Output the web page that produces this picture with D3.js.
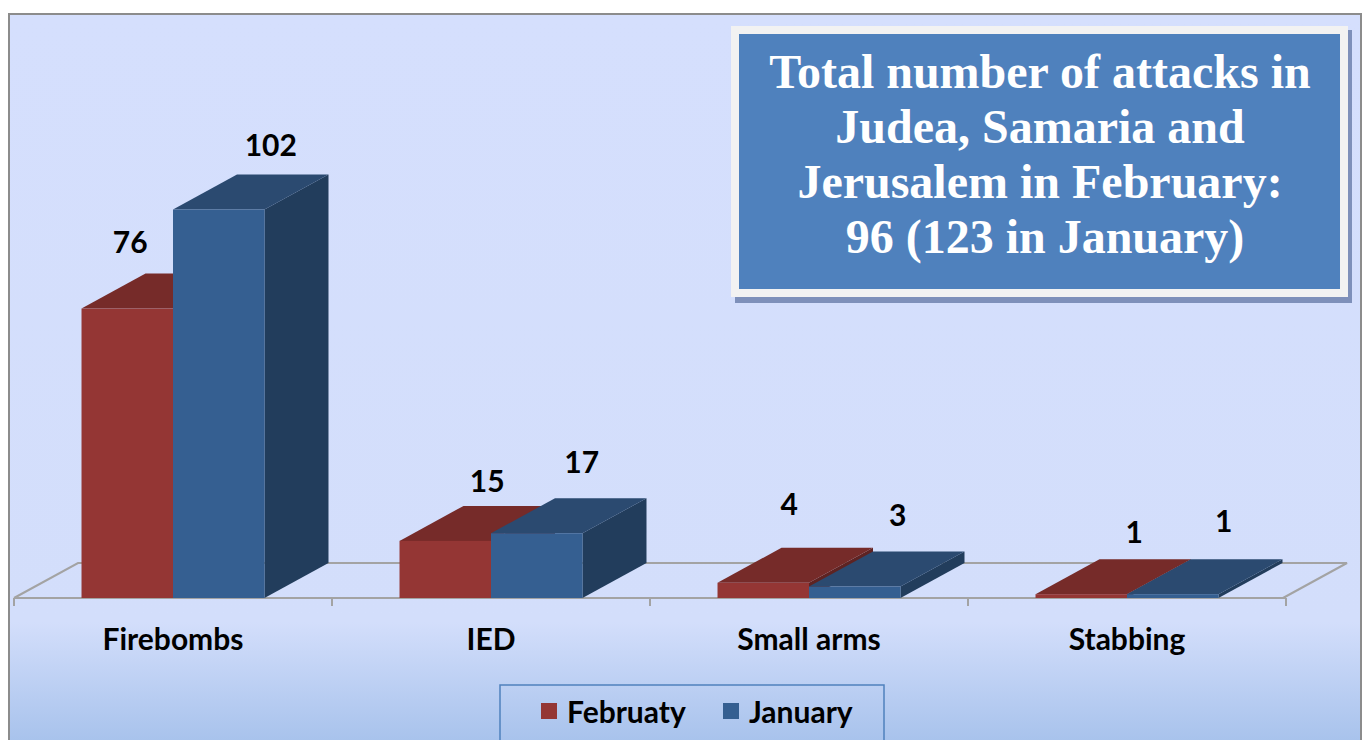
<!DOCTYPE html>
<html>
<head>
<meta charset="utf-8">
<script src="https://cdn.jsdelivr.net/npm/d3@7"></script>
<style>
  html, body { margin: 0; padding: 0; background: #fff; }
  svg { display: block; }
  .lbl { font-family: Lato, 'Open Sans', sans-serif; font-weight: 700; fill: #000; }
  .title { font-family: 'Liberation Serif', 'Times New Roman', serif; font-weight: 700; fill: #fff; }
</style>
</head>
<body>
<script>
const categories = ['Firebombs', 'IED', 'Small arms', 'Stabbing']
const february = [76, 15, 4, 1]
const january = [102, 17, 3, 1]
const seriesNames = ['Februaty', 'January']
const titleLines = [
  'Total number of attacks in',
  'Judea, Samaria and',
  'Jerusalem in February:',
  '96 (123 in January)'
]

const W = 1367
const H = 740
const depthX = 64
const depthY = -35 // 3D depth offset

// label nudges (from bar front centre / back top edge), Excel places them a bit unevenly
const labelNudge = [
  [[3, -21], [52, -19]],
  [[42, -14], [45, -25]],
  [[26, -33], [43, -26]],
  [[53, -16], [51, -27]]
]

const colors = [
  { front: '#943634', top: '#762B29', side: '#5E2322' },
  { front: '#355F91', top: '#2B4A70', side: '#223D5C' }
]

const svg = d3.select('body').append('svg').attr('width', W).attr('height', H)

const defs = svg.append('defs')
const grad = defs.append('linearGradient')
  .attr('id', 'bg').attr('x1', 0).attr('y1', 0).attr('x2', 0).attr('y2', 1)
grad.append('stop').attr('offset', '0').attr('stop-color', '#D5DFFD')
grad.append('stop').attr('offset', '0.8').attr('stop-color', '#D3DEFB')
grad.append('stop').attr('offset', '1').attr('stop-color', '#9CBBE8')

// chart background and border
svg.append('rect')
  .attr('x', 9).attr('y', 14).attr('width', 1352).attr('height', 760)
  .attr('fill', 'url(#bg)').attr('stroke', '#8C8C8C').attr('stroke-width', 2)

const x0 = d3.scaleBand().domain(categories).range([14, 1286])
const x1 = d3.scaleBand().domain(seriesNames).range([0, x0.bandwidth()]).paddingOuter(0.738)
const y = d3.scaleLinear().domain([0, 120]).range([598, 141])

const base = y(0)

// floor
const floor = svg.append('g').attr('fill', 'none').attr('stroke', '#A3A3A3').attr('stroke-width', 2)
const fx0 = x0.range()[0]
const fx1 = x0.range()[1] - 3
floor.append('path').attr('d', `M${fx0},${base}L${fx0 + depthX},${base + depthY}L${fx1 + depthX},${base + depthY}L${fx1},${base}`)
floor.append('line').attr('x1', fx0).attr('x2', x0.range()[1]).attr('y1', base).attr('y2', base)
floor.selectAll('.tick')
  .data(categories.map(c => x0(c)).concat([x0.range()[1]]))
  .join('line')
  .attr('x1', d => d).attr('x2', d => d)
  .attr('y1', base).attr('y2', base + 8)

// bars
const bars = []
categories.forEach((c, i) => {
  ;[february[i], january[i]].forEach((v, s) => {
    bars.push({ cat: c, i, s, v, x: x0(c) + x1(seriesNames[s]), w: x1.bandwidth(), yt: y(v) })
  })
})

const g = svg.append('g')
const bar = g.selectAll('g.bar').data(bars).join('g').attr('class', 'bar')
bar.append('polygon')
  .attr('points', d => [[d.x + d.w, d.yt], [d.x + d.w + depthX, d.yt + depthY], [d.x + d.w + depthX, base + depthY], [d.x + d.w, base]].join(' '))
  .attr('fill', d => colors[d.s].side)
bar.append('polygon')
  .attr('points', d => [[d.x, d.yt], [d.x + d.w, d.yt], [d.x + d.w + depthX, d.yt + depthY], [d.x + depthX, d.yt + depthY]].join(' '))
  .attr('fill', d => colors[d.s].top)
bar.append('rect')
  .attr('x', d => d.x).attr('y', d => d.yt)
  .attr('width', d => d.w).attr('height', d => base - d.yt)
  .attr('fill', d => colors[d.s].front)

// value labels
svg.append('g').selectAll('text').data(bars).join('text')
  .attr('class', 'lbl')
  .attr('font-size', 30)
  .attr('text-anchor', 'middle')
  .attr('x', d => d.x + d.w / 2 + labelNudge[d.i][d.s][0])
  .attr('y', d => d.yt + depthY + labelNudge[d.i][d.s][1])
  .text(d => d.v)

// category labels
svg.append('g').selectAll('text').data(categories).join('text')
  .attr('class', 'lbl')
  .attr('font-size', 30)
  .attr('text-anchor', 'middle')
  .attr('x', d => x0(d) + x0.bandwidth() / 2)
  .attr('y', 650)
  .text(d => d)

// title box
const tb = svg.append('g')
tb.append('rect').attr('x', 735).attr('y', 30).attr('width', 617).attr('height', 273).attr('fill', '#7E90BA')
tb.append('rect').attr('x', 731).attr('y', 26).attr('width', 617).attr('height', 271).attr('fill', '#F2F2F2')
tb.append('rect').attr('x', 739).attr('y', 34).attr('width', 601).attr('height', 255).attr('fill', '#4F81BD')
tb.selectAll('text').data(titleLines).join('text')
  .attr('class', 'title')
  .attr('font-size', 48)
  .attr('text-anchor', 'middle')
  .attr('x', (d, i) => i === 3 ? 1045 : 1040)
  .attr('y', (d, i) => 88 + i * 55)
  .text(d => d)

// legend
const lg = svg.append('g')
lg.append('rect').attr('x', 500).attr('y', 685).attr('width', 384).attr('height', 70)
  .attr('fill', 'none').attr('stroke', '#4F81BD').attr('stroke-width', 1.5)
const legendX = [541, 723]
seriesNames.forEach((n, s) => {
  lg.append('rect').attr('x', legendX[s]).attr('y', 703).attr('width', 16).attr('height', 16).attr('fill', colors[s].front)
  lg.append('text').attr('class', 'lbl').attr('font-size', 30)
    .attr('x', legendX[s] + 26).attr('y', 723).text(n)
})
</script>
</body>
</html>
